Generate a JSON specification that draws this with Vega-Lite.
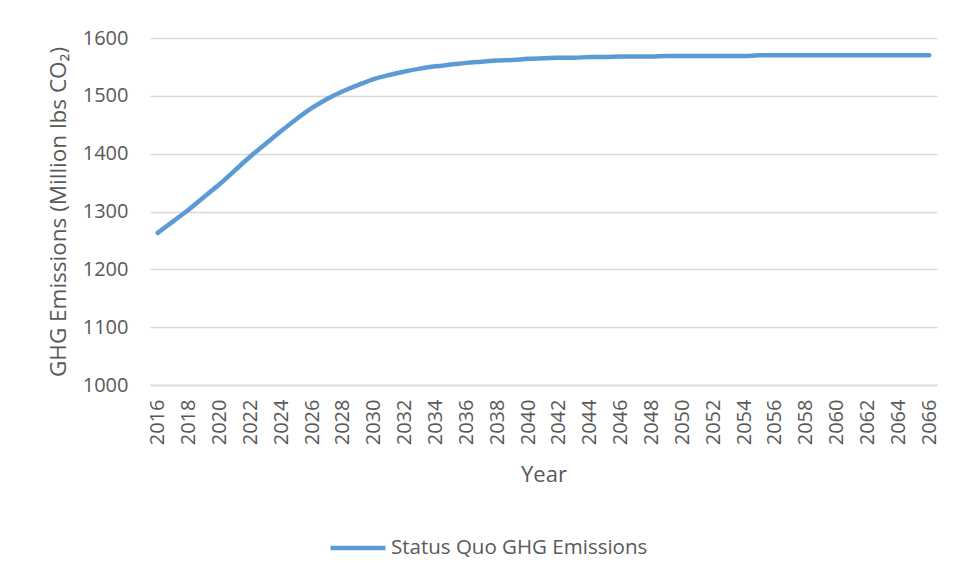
{
  "$schema": "https://vega.github.io/schema/vega-lite/v6.json",
  "autosize": "none",
  "width": 787,
  "height": 347,
  "padding": {"left": 150, "top": 38, "right": 19, "bottom": 198},
  "background": "white",
  "config": {
    "font": "Open Sans",
    "view": {"stroke": null}
  },
  "data": {
    "values": [
      {"Year": 2016, "Emissions": 1263, "Series": "Status Quo GHG Emissions"},
      {"Year": 2017, "Emissions": 1283, "Series": "Status Quo GHG Emissions"},
      {"Year": 2018, "Emissions": 1303, "Series": "Status Quo GHG Emissions"},
      {"Year": 2019, "Emissions": 1325, "Series": "Status Quo GHG Emissions"},
      {"Year": 2020, "Emissions": 1347, "Series": "Status Quo GHG Emissions"},
      {"Year": 2021, "Emissions": 1371, "Series": "Status Quo GHG Emissions"},
      {"Year": 2022, "Emissions": 1395, "Series": "Status Quo GHG Emissions"},
      {"Year": 2023, "Emissions": 1417, "Series": "Status Quo GHG Emissions"},
      {"Year": 2024, "Emissions": 1439, "Series": "Status Quo GHG Emissions"},
      {"Year": 2025, "Emissions": 1460, "Series": "Status Quo GHG Emissions"},
      {"Year": 2026, "Emissions": 1479, "Series": "Status Quo GHG Emissions"},
      {"Year": 2027, "Emissions": 1495, "Series": "Status Quo GHG Emissions"},
      {"Year": 2028, "Emissions": 1508, "Series": "Status Quo GHG Emissions"},
      {"Year": 2029, "Emissions": 1519, "Series": "Status Quo GHG Emissions"},
      {"Year": 2030, "Emissions": 1529, "Series": "Status Quo GHG Emissions"},
      {"Year": 2031, "Emissions": 1536, "Series": "Status Quo GHG Emissions"},
      {"Year": 2032, "Emissions": 1542, "Series": "Status Quo GHG Emissions"},
      {"Year": 2033, "Emissions": 1547, "Series": "Status Quo GHG Emissions"},
      {"Year": 2034, "Emissions": 1551, "Series": "Status Quo GHG Emissions"},
      {"Year": 2035, "Emissions": 1554, "Series": "Status Quo GHG Emissions"},
      {"Year": 2036, "Emissions": 1557, "Series": "Status Quo GHG Emissions"},
      {"Year": 2037, "Emissions": 1559, "Series": "Status Quo GHG Emissions"},
      {"Year": 2038, "Emissions": 1561, "Series": "Status Quo GHG Emissions"},
      {"Year": 2039, "Emissions": 1562, "Series": "Status Quo GHG Emissions"},
      {"Year": 2040, "Emissions": 1564, "Series": "Status Quo GHG Emissions"},
      {"Year": 2041, "Emissions": 1565, "Series": "Status Quo GHG Emissions"},
      {"Year": 2042, "Emissions": 1566, "Series": "Status Quo GHG Emissions"},
      {"Year": 2043, "Emissions": 1566, "Series": "Status Quo GHG Emissions"},
      {"Year": 2044, "Emissions": 1567, "Series": "Status Quo GHG Emissions"},
      {"Year": 2045, "Emissions": 1567, "Series": "Status Quo GHG Emissions"},
      {"Year": 2046, "Emissions": 1568, "Series": "Status Quo GHG Emissions"},
      {"Year": 2047, "Emissions": 1568, "Series": "Status Quo GHG Emissions"},
      {"Year": 2048, "Emissions": 1568, "Series": "Status Quo GHG Emissions"},
      {"Year": 2049, "Emissions": 1569, "Series": "Status Quo GHG Emissions"},
      {"Year": 2050, "Emissions": 1569, "Series": "Status Quo GHG Emissions"},
      {"Year": 2051, "Emissions": 1569, "Series": "Status Quo GHG Emissions"},
      {"Year": 2052, "Emissions": 1569, "Series": "Status Quo GHG Emissions"},
      {"Year": 2053, "Emissions": 1569, "Series": "Status Quo GHG Emissions"},
      {"Year": 2054, "Emissions": 1569, "Series": "Status Quo GHG Emissions"},
      {"Year": 2055, "Emissions": 1570, "Series": "Status Quo GHG Emissions"},
      {"Year": 2056, "Emissions": 1570, "Series": "Status Quo GHG Emissions"},
      {"Year": 2057, "Emissions": 1570, "Series": "Status Quo GHG Emissions"},
      {"Year": 2058, "Emissions": 1570, "Series": "Status Quo GHG Emissions"},
      {"Year": 2059, "Emissions": 1570, "Series": "Status Quo GHG Emissions"},
      {"Year": 2060, "Emissions": 1570, "Series": "Status Quo GHG Emissions"},
      {"Year": 2061, "Emissions": 1570, "Series": "Status Quo GHG Emissions"},
      {"Year": 2062, "Emissions": 1570, "Series": "Status Quo GHG Emissions"},
      {"Year": 2063, "Emissions": 1570, "Series": "Status Quo GHG Emissions"},
      {"Year": 2064, "Emissions": 1570, "Series": "Status Quo GHG Emissions"},
      {"Year": 2065, "Emissions": 1570, "Series": "Status Quo GHG Emissions"},
      {"Year": 2066, "Emissions": 1570, "Series": "Status Quo GHG Emissions"}
    ]
  },
  "mark": {"type": "line", "strokeWidth": 4.5, "interpolate": "monotone", "strokeCap": "round"},
  "encoding": {
    "x": {
      "field": "Year",
      "type": "ordinal",
      "scale": {"type": "point", "padding": 0.5},
      "axis": {
        "title": "Year",
        "values": [2016,2018,2020,2022,2024,2026,2028,2030,2032,2034,2036,2038,2040,2042,2044,2046,2048,2050,2052,2054,2056,2058,2060,2062,2064,2066],
        "labelAngle": -90,
        "labelFontSize": 20,
        "labelColor": "#595959",
        "labelPadding": 14,
        "ticks": false,
        "grid": false,
        "domain": true,
        "domainColor": "#d9d9d9",
        "domainWidth": 1.3,
        "titleFontSize": 22,
        "titleFontWeight": "normal",
        "titleColor": "#595959",
        "titlePadding": 20
      }
    },
    "y": {
      "field": "Emissions",
      "type": "quantitative",
      "scale": {"domain": [1000, 1600], "nice": false, "zero": false},
      "axis": {
        "title": "GHG Emissions (Million lbs CO₂)",
        "values": [1000, 1100, 1200, 1300, 1400, 1500, 1600],
        "format": "d",
        "labelFontSize": 20,
        "labelColor": "#595959",
        "labelPadding": 22,
        "ticks": false,
        "domain": false,
        "grid": true,
        "gridColor": "#d9d9d9",
        "gridWidth": 1.3,
        "titleFontSize": 22.5,
        "titleFontWeight": "normal",
        "titleColor": "#595959",
        "titlePadding": 12
      }
    },
    "color": {
      "field": "Series",
      "type": "nominal",
      "scale": {"range": ["#5B9BD5"]},
      "legend": {
        "title": null,
        "orient": "none",
        "legendX": 178,
        "legendY": 480,
        "symbolType": "stroke",
        "symbolSize": 3025,
        "symbolStrokeWidth": 4.5,
        "labelFontSize": 20.5,
        "labelColor": "#595959",
        "labelOffset": 3,
        "labelLimit": 0
      }
    }
  }
}
